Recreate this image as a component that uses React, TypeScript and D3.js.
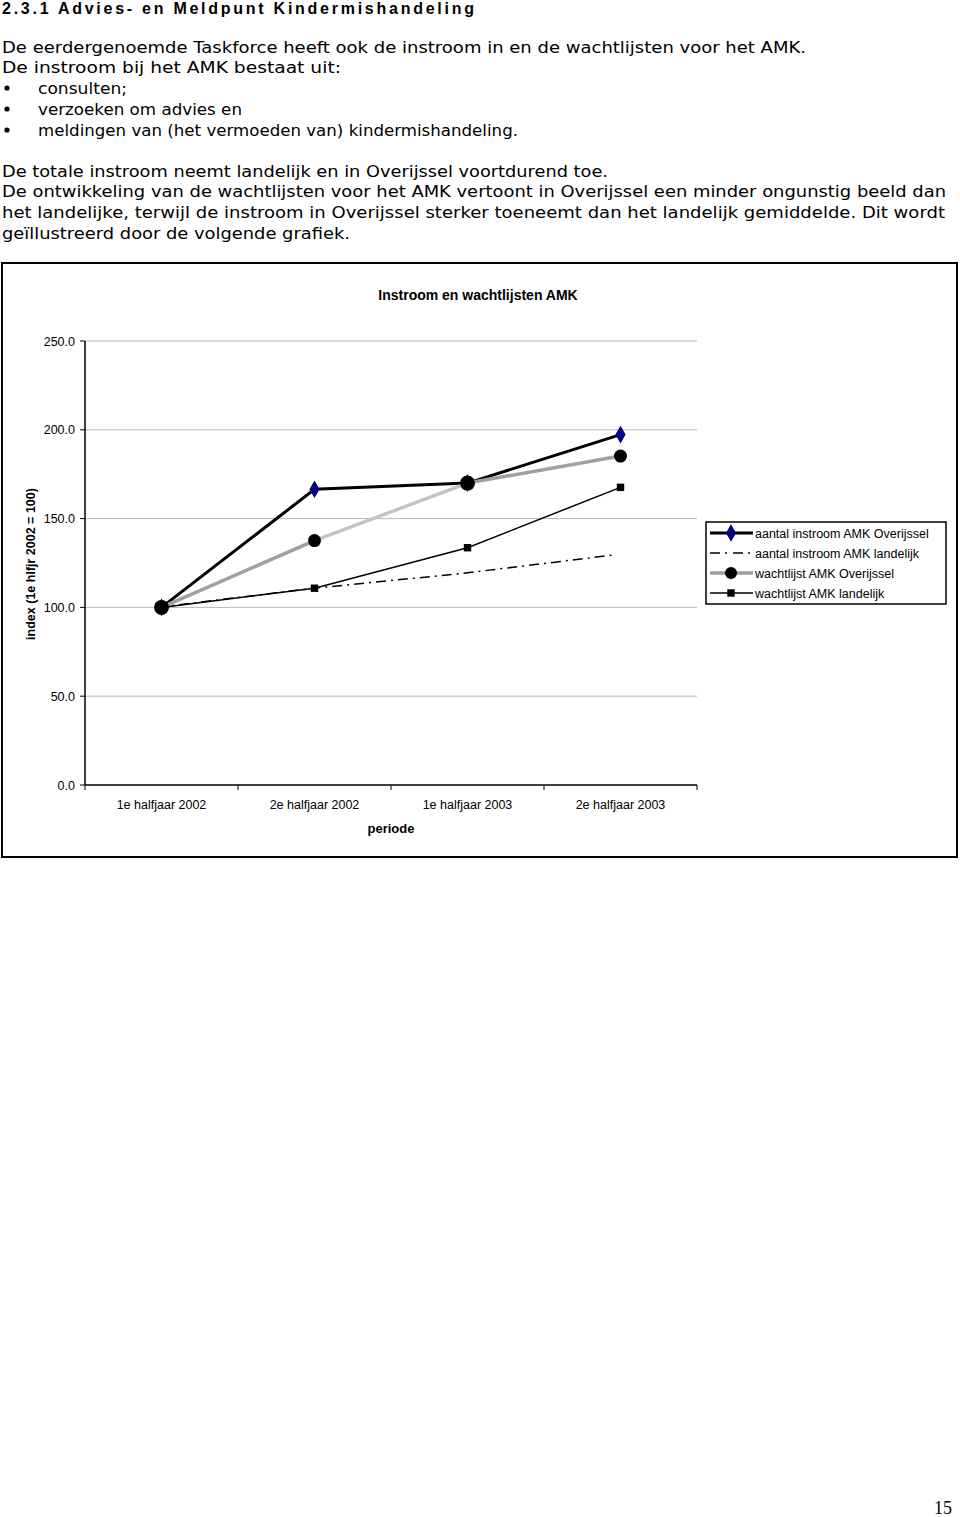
import { useEffect } from "react";
import * as d3 from "d3";

const periods = ["1e halfjaar 2002", "2e halfjaar 2002", "1e halfjaar 2003", "2e halfjaar 2003"];
const instroomOverijssel = [100, 166.5, 170, 197.3];
const instroomLandelijk = [100, 110.6, 119.2, 129.7];
const wachtlijstOverijssel = [100, 137.6, 170, 185.2];
const wachtlijstLandelijk = [100, 110.8, 133.6, 167.6];
const yTicks = [0, 50, 100, 150, 200, 250];

const seriesNames = [
  "aantal instroom AMK Overijssel",
  "aantal instroom AMK landelijk",
  "wachtlijst AMK Overijssel",
  "wachtlijst AMK landelijk",
];

// body text lines: [text, x, y, width]
const bodyLines: [string, number, number, number][] = [
  ["De eerdergenoemde Taskforce heeft ook de instroom in en de wachtlijsten voor het AMK.", 2, 53, 804],
  ["De instroom bij het AMK bestaat uit:", 2, 73, 339],
  ["consulten;", 38, 94, 89],
  ["verzoeken om advies en", 38, 115, 204],
  ["meldingen van (het vermoeden van) kindermishandeling.", 38, 136, 480],
  ["De totale instroom neemt landelijk en in Overijssel voortdurend toe.", 2, 177, 606],
  ["De ontwikkeling van de wachtlijsten voor het AMK vertoont in Overijssel een minder ongunstig beeld dan", 2, 197, 944],
  ["het landelijke, terwijl de instroom in Overijssel sterker toeneemt dan het landelijk gemiddelde. Dit wordt", 2, 218, 943],
  ["geïllustreerd door de volgende grafiek.", 2, 239, 348],
];

const App = () => {
  useEffect(() => {
    document.body.style.margin = "0";
  }, []);

  const width = 960;
  const height = 1517;
  const plot = { left: 85, right: 697, top: 341, bottom: 785 };

  const x = d3.scaleBand().domain(periods).range([plot.left, plot.right]).padding(0);
  const y = d3.scaleLinear().domain([0, 250]).range([plot.bottom, plot.top]);
  const cx = (p: string) => (x(p) ?? 0) + x.bandwidth() / 2;

  const line = d3
    .line<number>()
    .x((_, i) => cx(periods[i]))
    .y((d) => y(d));

  const arial = "'Liberation Sans', Arial, sans-serif";
  const verdana = "'DejaVu Sans', Verdana, sans-serif";

  const diamond = d3.symbol().type(d3.symbolDiamond).size(90)() ?? "";
  const square = d3.symbol().type(d3.symbolSquare).size(55)() ?? "";

  const legendY = [533, 553, 573, 593];
  // middle segment of the grey line is drawn lighter in the original
  const greySegs = ["#a0a0a0", "#c4c4c4", "#a0a0a0"];

  return (
    <svg width={width} height={height} style={{ display: "block", background: "#fff" }}>
      {/* page text */}
      <text x={2} y={14} fontFamily={arial} fontWeight="bold" fontSize={16} textLength={472} lengthAdjust="spacing">
        2.3.1 Advies- en Meldpunt Kindermishandeling
      </text>
      {bodyLines.map(([t, tx, ty, w]) => (
        <text key={t} x={tx} y={ty} fontFamily={verdana} fontSize={15.5} textLength={w} lengthAdjust="spacingAndGlyphs" fill="#000">
          {t}
        </text>
      ))}
      {[88, 109, 130].map((by) => (
        <circle key={by} cx={7} cy={by} r={2.6} fill="#000" />
      ))}

      {/* chart frame */}
      <rect x={2} y={263} width={955} height={594} fill="#fff" stroke="#000" strokeWidth={2} />
      <text x={478} y={300} textAnchor="middle" fontFamily={arial} fontWeight="bold" fontSize={14}>
        Instroom en wachtlijsten AMK
      </text>

      {/* grid */}
      {yTicks.filter((t) => t > 0).map((t) => (
        <line key={t} x1={plot.left} x2={plot.right} y1={y(t)} y2={y(t)} stroke="#b8b8b8" strokeWidth={1} />
      ))}

      {/* axes */}
      <line x1={plot.left} x2={plot.left} y1={plot.top} y2={plot.bottom} stroke="#000" strokeWidth={1.5} />
      <line x1={plot.left} x2={plot.right} y1={plot.bottom} y2={plot.bottom} stroke="#000" strokeWidth={1.5} />
      {yTicks.map((t) => (
        <g key={t}>
          <line x1={plot.left - 5} x2={plot.left} y1={y(t)} y2={y(t)} stroke="#000" strokeWidth={1} />
          <text x={75} y={y(t) + 4.5} textAnchor="end" fontFamily={arial} fontSize={12.5}>
            {t.toFixed(1)}
          </text>
        </g>
      ))}
      {periods.map((p) => (
        <text key={p} x={cx(p)} y={809} textAnchor="middle" fontFamily={arial} fontSize={12.5}>
          {p}
        </text>
      ))}
      {[...periods.map((p) => x(p) ?? 0), plot.right].map((bx, i) => (
        <line key={i} x1={bx} x2={bx} y1={plot.bottom} y2={plot.bottom + 5} stroke="#000" strokeWidth={1} />
      ))}
      <text x={391} y={833} textAnchor="middle" fontFamily={arial} fontWeight="bold" fontSize={13}>
        periode
      </text>
      <text
        transform="translate(35,564) rotate(-90)"
        textAnchor="middle"
        fontFamily={arial}
        fontWeight="bold"
        fontSize={12.5}
      >
        index (1e hlfjr 2002 = 100)
      </text>

      {/* series */}
      <path d={line(instroomOverijssel) ?? ""} fill="none" stroke="#000" strokeWidth={3} />
      {instroomOverijssel.map((v, i) => (
        <path key={i} d={diamond} transform={`translate(${cx(periods[i])},${y(v)})`} fill="#000080" />
      ))}

      <path
        d={line(instroomLandelijk) ?? ""}
        fill="none"
        stroke="#000"
        strokeWidth={1.5}
        strokeDasharray="10,5,2,5"
        transform="translate(-4,0)"
      />

      {greySegs.map((c, i) => (
        <line
          key={i}
          x1={cx(periods[i])}
          y1={y(wachtlijstOverijssel[i])}
          x2={cx(periods[i + 1])}
          y2={y(wachtlijstOverijssel[i + 1])}
          stroke={c}
          strokeWidth={3.5}
        />
      ))}
      {wachtlijstOverijssel.map((v, i) => (
        <circle key={i} cx={cx(periods[i])} cy={y(v)} r={i === 0 || i === 2 ? 7.5 : 6.5} fill="#000" />
      ))}

      <path d={line(wachtlijstLandelijk) ?? ""} fill="none" stroke="#000" strokeWidth={1.5} />
      {wachtlijstLandelijk.map((v, i) => (
        <path key={i} d={square} transform={`translate(${cx(periods[i])},${y(v)})`} fill="#000" />
      ))}

      {/* legend */}
      <rect x={706} y={522} width={240} height={82} fill="#fff" stroke="#000" strokeWidth={1.5} />
      <line x1={710} x2={753} y1={legendY[0]} y2={legendY[0]} stroke="#000" strokeWidth={3} />
      <path d={diamond} transform={`translate(731,${legendY[0]})`} fill="#000080" />
      <line x1={710} x2={753} y1={legendY[1]} y2={legendY[1]} stroke="#000" strokeWidth={1.5} strokeDasharray="10,5,2,6" />
      <line x1={710} x2={753} y1={legendY[2]} y2={legendY[2]} stroke="#a0a0a0" strokeWidth={3.5} />
      <circle cx={731} cy={legendY[2]} r={6} fill="#000" />
      <line x1={710} x2={753} y1={legendY[3]} y2={legendY[3]} stroke="#000" strokeWidth={1.5} />
      <path d={square} transform={`translate(731,${legendY[3]})`} fill="#000" />
      {seriesNames.map((n, i) => (
        <text key={n} x={755} y={legendY[i] + 4.5} fontFamily={arial} fontSize={12.5}>
          {n}
        </text>
      ))}

      {/* page number */}
      <text x={952} y={1514} textAnchor="end" fontFamily="'Liberation Serif', 'Times New Roman', serif" fontSize={18}>
        15
      </text>
    </svg>
  );
};

export default App;
